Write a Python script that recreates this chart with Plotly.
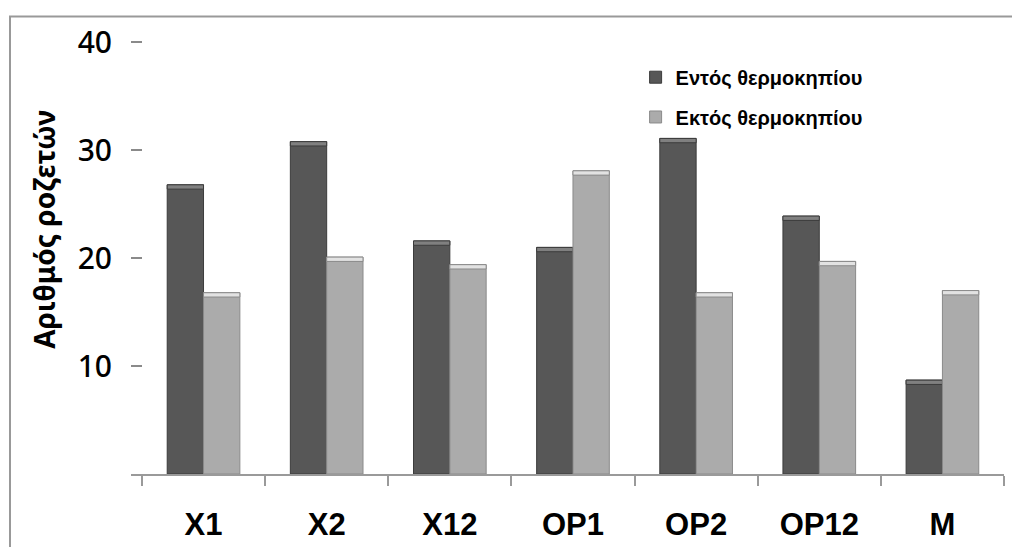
import plotly.graph_objects as go

# Rosette counts per line, inside vs outside the greenhouse
categories = ["X1", "X2", "X12", "OP1", "OP2", "OP12", "M"]
inside_gh = [26.8, 30.8, 21.6, 21.0, 31.1, 23.9, 8.7]
outside_gh = [16.8, 20.1, 19.4, 28.1, 16.8, 19.7, 17.0]
y_ticks = [10, 20, 30, 40]

series_names = ["Εντός θερμοκηπίου", "Εκτός θερμοκηπίου"]
body_colors = ["#575757", "#ababab"]
edge_colors = ["#3c3c3c", "#8a8a8a"]
cap_colors = ["#808080", "#e2e2e2"]
cap_height = 0.4

fig = go.Figure()
for i, (name, vals) in enumerate(zip(series_names, [inside_gh, outside_gh])):
    grp = f"g{i}"
    fig.add_trace(go.Bar(
        x=categories, y=vals, name=name, offsetgroup=grp,
        marker=dict(color=body_colors[i], line=dict(color=edge_colors[i], width=1)),
        legend="legend" if i == 0 else "legend2",
    ))
    # lighter bevel band along the top of each bar
    fig.add_trace(go.Bar(
        x=categories, y=[cap_height] * len(vals), base=[v - cap_height for v in vals],
        offsetgroup=grp, showlegend=False, hoverinfo="skip",
        marker=dict(color=cap_colors[i], line=dict(color=edge_colors[i], width=1)),
    ))

legend_font = dict(family="Liberation Sans", size=20, color="black", weight="bold")

fig.update_layout(
    width=1012, height=547,
    margin=dict(l=131, r=8, t=37, b=73),
    plot_bgcolor="white", paper_bgcolor="white",
    barmode="group", bargap=0.41, bargroupgap=0,
    font=dict(family="Liberation Sans", color="black"),
    legend=dict(
        x=0.578, y=0.908, xanchor="left", yanchor="middle",
        font=legend_font, bgcolor="rgba(0,0,0,0)",
    ),
    legend2=dict(
        x=0.578, y=0.817, xanchor="left", yanchor="middle",
        font=legend_font, bgcolor="rgba(0,0,0,0)",
    ),
    xaxis=dict(
        range=[-0.589, 6.5], tickson="boundaries", automargin=False,
        showline=True, linecolor="#9a9a9a", linewidth=2,
        ticks="outside", ticklen=10, tickwidth=2, tickcolor="#9a9a9a",
        tickfont=dict(family="Liberation Sans", size=31, color="black", weight="bold"),
        ticklabelstandoff=22,
        showgrid=False, zeroline=False,
    ),
    yaxis=dict(
        range=[0, 40.5], tickvals=y_ticks, automargin=False,
        ticks="inside", ticklen=11, tickwidth=1.5, tickcolor="#8a8a8a",
        tickfont=dict(family="Noto Sans", size=30, color="black", weight=500),
        ticklabelstandoff=18,
        showline=False, showgrid=False, zeroline=False,
    ),
    annotations=[dict(
        text="<b>Αριθμός ροζετών</b>", textangle=-90,
        xref="paper", yref="paper", x=-0.099, y=0.56,
        xanchor="center", yanchor="middle", showarrow=False,
        font=dict(family="Noto Sans", size=28, color="black"),
    )],
    shapes=[dict(
        type="rect", xref="paper", yref="paper",
        x0=-0.1386, x1=1.03, y0=-0.25, y1=1.047,
        line=dict(color="#999999", width=2), fillcolor="rgba(0,0,0,0)",
        layer="below",
    )],
)

fig.write_html("out.html")
